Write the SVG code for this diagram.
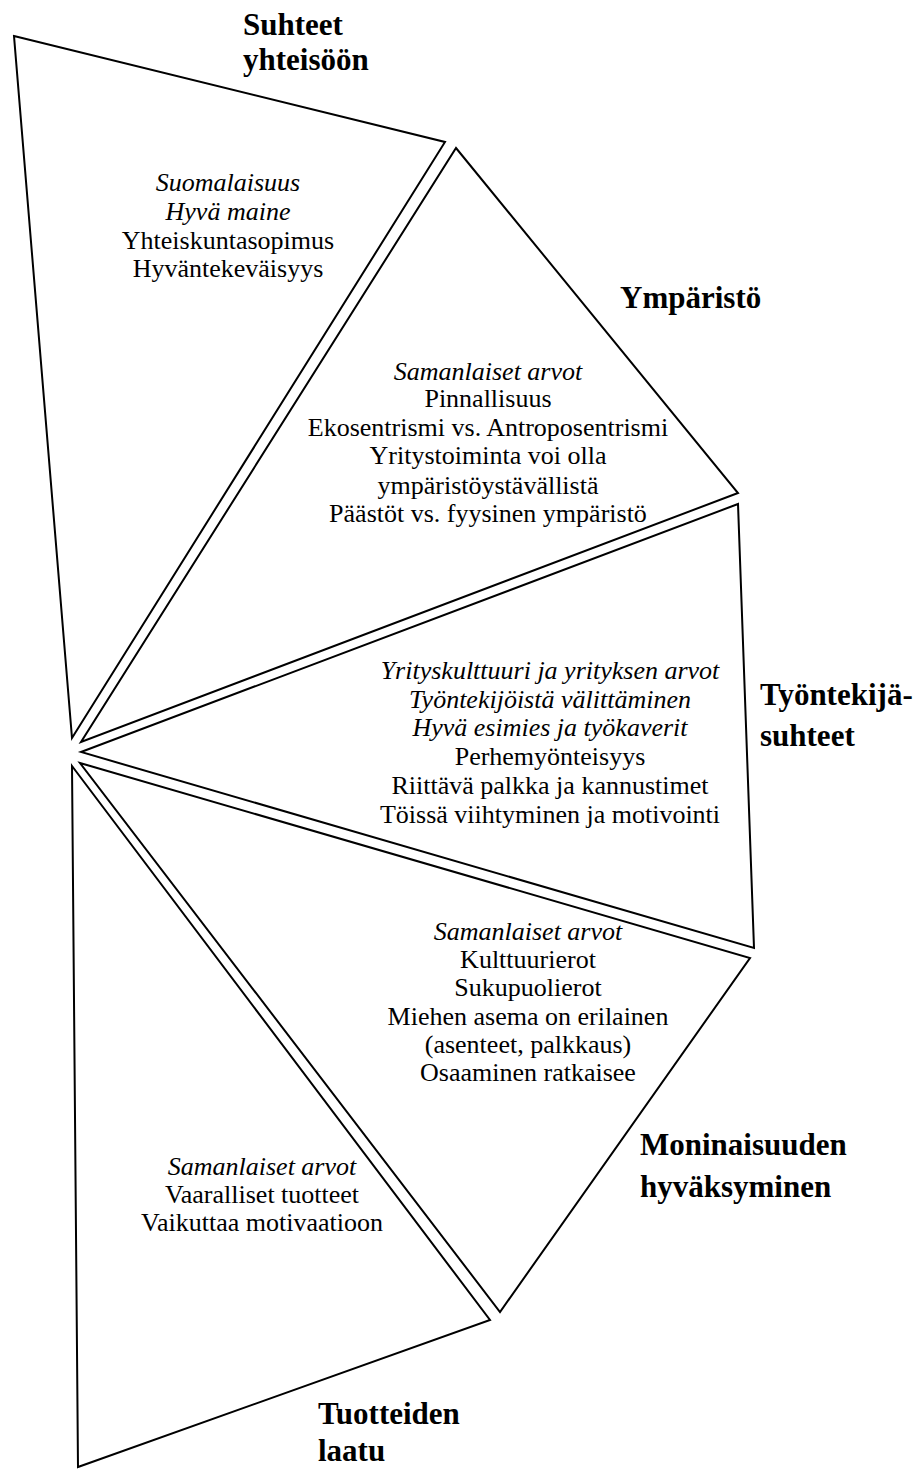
<svg xmlns="http://www.w3.org/2000/svg" width="917" height="1470" viewBox="0 0 917 1470">
  <style>
    .seg { fill: #ffffff; stroke: #000000; stroke-width: 2; stroke-linejoin: miter; }
    .t { font-family: "Liberation Serif", "Times New Roman", serif; font-size: 26px; fill: #000; text-anchor: middle; }
    .i { font-style: italic; }
    .h { font-family: "Liberation Serif", "Times New Roman", serif; font-size: 31px; font-weight: bold; fill: #000; }
  </style>
  <rect width="917" height="1470" fill="#ffffff"/>

  <!-- Suhteet yhteisöön -->
  <g id="node-yhteiso">
    <polygon class="seg" points="14,36 445,142 72,738"/>
    <text class="t i" x="228" y="191">Suomalaisuus</text>
    <text class="t i" x="228" y="220">Hyvä maine</text>
    <text class="t" x="228" y="249">Yhteiskuntasopimus</text>
    <text class="t" x="228" y="277">Hyväntekeväisyys</text>
    <text class="h" x="243" y="35">Suhteet</text>
    <text class="h" x="243" y="70">yhteisöön</text>
  </g>

  <!-- Ympäristö -->
  <g id="node-ymparisto">
    <polygon class="seg" points="456,148 738,493 81,742"/>
    <text class="t i" x="488" y="380">Samanlaiset arvot</text>
    <text class="t" x="488" y="407">Pinnallisuus</text>
    <text class="t" x="488" y="436">Ekosentrismi vs. Antroposentrismi</text>
    <text class="t" x="488" y="464">Yritystoiminta voi olla</text>
    <text class="t" x="488" y="494">ympäristöystävällistä</text>
    <text class="t" x="488" y="522">Päästöt vs. fyysinen ympäristö</text>
    <text class="h" x="620" y="308">Ympäristö</text>
  </g>

  <!-- Työntekijäsuhteet -->
  <g id="node-tyontekija">
    <polygon class="seg" points="81,752 738,504 754,948"/>
    <text class="t i" x="550" y="679">Yrityskulttuuri ja yrityksen arvot</text>
    <text class="t i" x="550" y="708">Työntekijöistä välittäminen</text>
    <text class="t i" x="550" y="736">Hyvä esimies ja työkaverit</text>
    <text class="t" x="550" y="765">Perhemyönteisyys</text>
    <text class="t" x="550" y="794">Riittävä palkka ja kannustimet</text>
    <text class="t" x="550" y="823">Töissä viihtyminen ja motivointi</text>
    <text class="h" x="760" y="705">Työntekijä-</text>
    <text class="h" x="760" y="746">suhteet</text>
  </g>

  <!-- Moninaisuuden hyväksyminen -->
  <g id="node-moninaisuus">
    <polygon class="seg" points="80,763 750,958 500,1312"/>
    <text class="t i" x="528" y="940">Samanlaiset arvot</text>
    <text class="t" x="528" y="968">Kulttuurierot</text>
    <text class="t" x="528" y="996">Sukupuolierot</text>
    <text class="t" x="528" y="1025">Miehen asema on erilainen</text>
    <text class="t" x="528" y="1053">(asenteet, palkkaus)</text>
    <text class="t" x="528" y="1081">Osaaminen ratkaisee</text>
    <text class="h" x="640" y="1155">Moninaisuuden</text>
    <text class="h" x="640" y="1197">hyväksyminen</text>
  </g>

  <!-- Tuotteiden laatu -->
  <g id="node-tuotteet">
    <polygon class="seg" points="72,766 490,1320 78,1467"/>
    <text class="t i" x="262" y="1175">Samanlaiset arvot</text>
    <text class="t" x="262" y="1203">Vaaralliset tuotteet</text>
    <text class="t" x="262" y="1231">Vaikuttaa motivaatioon</text>
    <text class="h" x="318" y="1424">Tuotteiden</text>
    <text class="h" x="318" y="1461">laatu</text>
  </g>

  <g id="connectors"></g>
</svg>
